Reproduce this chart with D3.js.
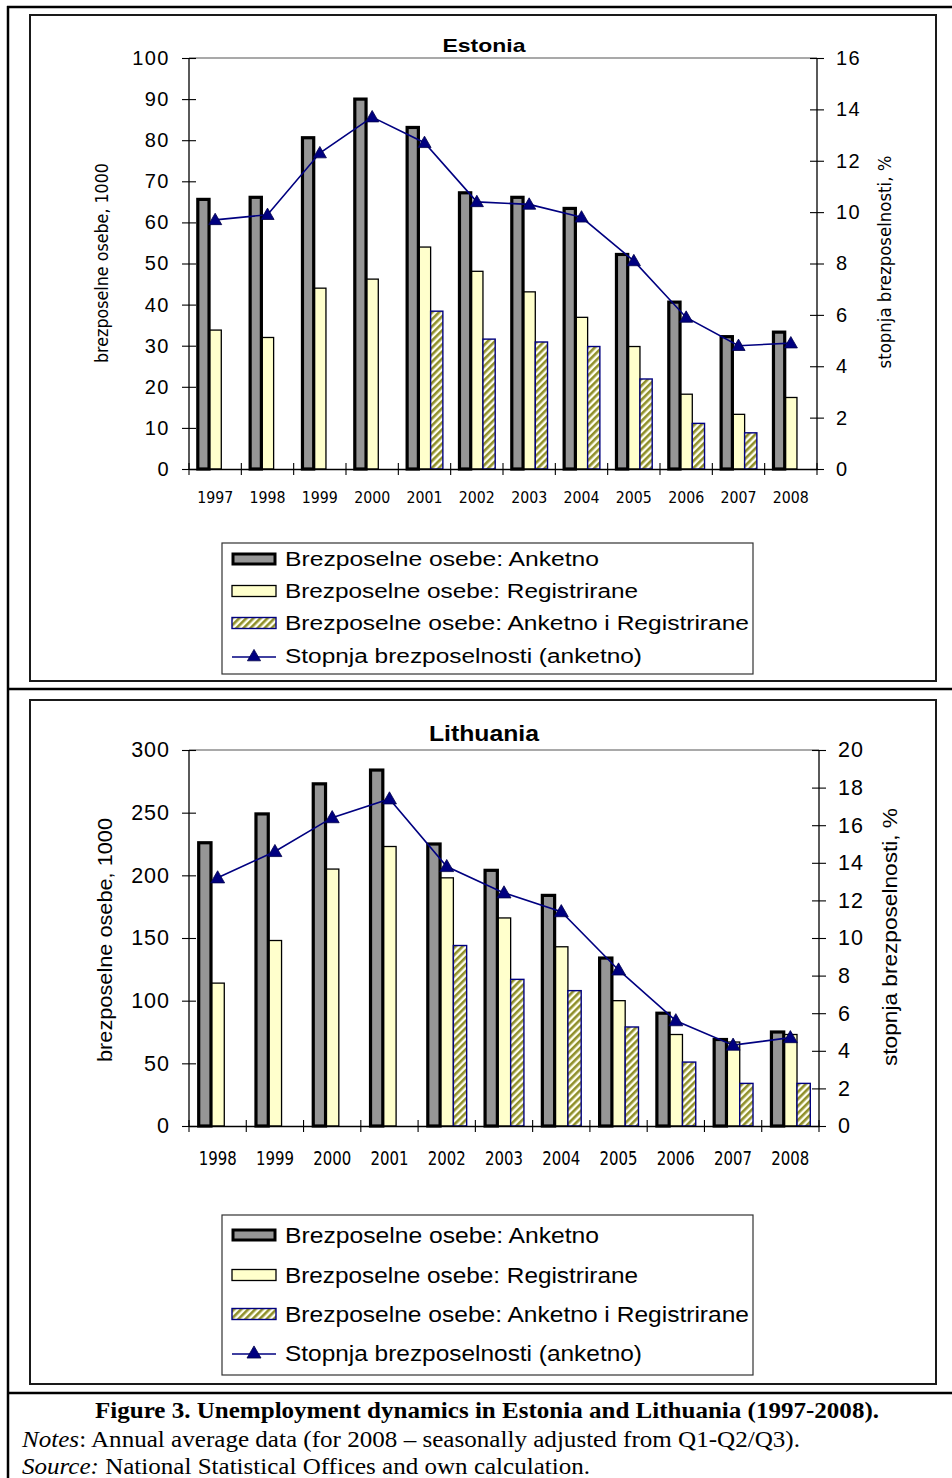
<!DOCTYPE html>
<html><head><meta charset="utf-8">
<script src="https://cdn.jsdelivr.net/npm/d3@7/dist/d3.min.js"></script>
<style>
html,body{margin:0;padding:0;background:#fff;}
svg{display:block;}
</style></head>
<body>
<svg id="c" width="952" height="1478"></svg>
<script>
// ---------- DATA ----------
const estYears = ["1997","1998","1999","2000","2001","2002","2003","2004","2005","2006","2007","2008"];
const estAnketno = [65.6, 66.1, 80.6, 90.0, 83.1, 67.2, 66.1, 63.4, 52.2, 40.6, 32.2, 33.3];
const estRegistrirane = [33.8, 32.0, 44.0, 46.2, 54.0, 48.1, 43.1, 36.9, 29.8, 18.2, 13.3, 17.4];
const estBoth = [null, null, null, null, 38.4, 31.6, 30.9, 29.8, 21.9, 11.1, 8.8, null];
const estRate = [9.7, 9.9, 12.3, 13.7, 12.7, 10.4, 10.3, 9.8, 8.1, 5.9, 4.8, 4.9];
const estLeftTicks = [0,10,20,30,40,50,60,70,80,90,100];
const estRightTicks = [0,2,4,6,8,10,12,14,16];

const litYears = ["1998","1999","2000","2001","2002","2003","2004","2005","2006","2007","2008"];
const litAnketno = [226, 249, 273, 284, 225, 204, 184, 134, 90, 69, 75];
const litRegistrirane = [114, 148, 205, 223, 198, 166, 143, 100, 73, 67, 73];
const litBoth = [null, null, null, null, 144, 117, 108, 79, 51, 34, 34];
const litRate = [13.2, 14.6, 16.4, 17.4, 13.8, 12.4, 11.4, 8.3, 5.6, 4.3, 4.7];
const litLeftTicks = [0,50,100,150,200,250,300];
const litRightTicks = [0,2,4,6,8,10,12,14,16,18,20];

const legendLabels = ["Brezposelne osebe: Anketno","Brezposelne osebe: Registrirane","Brezposelne osebe: Anketno i Registrirane","Stopnja brezposelnosti (anketno)"];
const leftTitle = "brezposelne osebe, 1000";
const rightTitle = "stopnja brezposelnosti, %";

// ---------- STYLE ----------
const SANS = "'Liberation Sans', Arial, sans-serif";
const NARROW = "'Liberation Sans Narrow', 'DejaVu Sans Condensed', 'Liberation Sans', sans-serif";
const SERIF = "'Liberation Serif', 'Times New Roman', serif";
const C_ANK = "#969696", C_REG = "#FFFFCC", C_LINE = "#000080", C_HATCH = "#8f8f2a";
const legendWidths = [314, 353, 464, 357];

const svg = d3.select("#c");
const defs = svg.append("defs");
const pat = defs.append("pattern").attr("id","hatch").attr("patternUnits","userSpaceOnUse")
  .attr("width",5).attr("height",5).attr("patternTransform","rotate(45)");
pat.append("rect").attr("width",5).attr("height",5).attr("fill","#fffff0");
pat.append("rect").attr("width",2.6).attr("height",5).attr("fill",C_HATCH);

// outer figure lines
const g0 = svg.append("g").attr("stroke","#000").attr("stroke-width",2.5);
g0.append("line").attr("x1",8).attr("x2",8).attr("y1",6).attr("y2",1478);
g0.append("line").attr("x1",7).attr("x2",952).attr("y1",7).attr("y2",7);
g0.append("line").attr("x1",7).attr("x2",952).attr("y1",689).attr("y2",689);
g0.append("line").attr("x1",7).attr("x2",952).attr("y1",1393).attr("y2",1393);

function chart(cfg){
  const g = svg.append("g");
  g.append("rect").attr("x",cfg.frame[0]).attr("y",cfg.frame[1]).attr("width",cfg.frame[2]).attr("height",cfg.frame[3])
    .attr("fill","none").attr("stroke","#1a1a1a").attr("stroke-width",2);
  const x = d3.scaleBand().domain(cfg.years).range([cfg.left,cfg.right]).paddingInner(0).paddingOuter(0);
  const yL = d3.scaleLinear().domain([0,cfg.leftMax]).range([cfg.bottom,cfg.top]);
  const yR = d3.scaleLinear().domain([0,cfg.rightMax]).range([cfg.bottom,cfg.top]);
  const cw = x.bandwidth();
  const bw = cw*cfg.barFrac;
  const off = (cw-3*bw)/2;

  g.append("line").attr("x1",cfg.left).attr("x2",cfg.right).attr("y1",cfg.top).attr("y2",cfg.top)
    .attr("stroke","#8c8c8c").attr("stroke-width",1.5);

  const idx = d3.range(cfg.years.length);
  g.append("g").selectAll("rect").data(idx.filter(i=>cfg.reg[i]!=null)).join("rect")
    .attr("x",i=>x(cfg.years[i])+off+bw).attr("width",bw)
    .attr("y",i=>yL(cfg.reg[i])).attr("height",i=>yL(0)-yL(cfg.reg[i]))
    .attr("fill",C_REG).attr("stroke","#000").attr("stroke-width",1.3);
  g.append("g").selectAll("rect").data(idx.filter(i=>cfg.both[i]!=null)).join("rect")
    .attr("x",i=>x(cfg.years[i])+off+2*bw).attr("width",bw)
    .attr("y",i=>yL(cfg.both[i])).attr("height",i=>yL(0)-yL(cfg.both[i]))
    .attr("fill","url(#hatch)").attr("stroke",C_LINE).attr("stroke-width",1.4);
  g.append("g").selectAll("rect").data(idx.filter(i=>cfg.ank[i]!=null)).join("rect")
    .attr("x",i=>x(cfg.years[i])+off+1).attr("width",bw-1)
    .attr("y",i=>yL(cfg.ank[i])).attr("height",i=>yL(0)-yL(cfg.ank[i]))
    .attr("fill",C_ANK).attr("stroke","#000").attr("stroke-width",3.2);

  const axL = g.append("g").attr("transform",`translate(${cfg.left},0)`)
    .call(d3.axisLeft(yL).tickValues(cfg.leftTicks).tickSize(7).tickPadding(12).tickFormat(d3.format("d")));
  axL.select(".domain").attr("stroke","#000").attr("stroke-width",1.3).attr("d",`M0,${cfg.bottom}V${cfg.top}`);
  axL.selectAll(".tick line").attr("x1",7).attr("x2",-7).attr("stroke","#000").attr("stroke-width",1.1);
  axL.selectAll(".tick text").attr("font-family",SANS).attr("font-size",cfg.tickFont).attr("letter-spacing",cfg.tickLS).attr("fill","#000");

  const axR = g.append("g").attr("transform",`translate(${cfg.right},0)`)
    .call(d3.axisRight(yR).tickValues(cfg.rightTicks).tickSize(7).tickPadding(12).tickFormat(d3.format("d")));
  axR.select(".domain").attr("stroke","#000").attr("stroke-width",1.3).attr("d",`M0,${cfg.bottom}V${cfg.top}`);
  axR.selectAll(".tick line").attr("x1",-7).attr("x2",7).attr("stroke","#000").attr("stroke-width",1.1);
  axR.selectAll(".tick text").attr("font-family",SANS).attr("font-size",cfg.tickFont).attr("letter-spacing",cfg.tickLS).attr("fill","#000");

  const axB = g.append("g").attr("transform",`translate(0,${cfg.bottom})`)
    .call(d3.axisBottom(x).tickSize(0).tickPadding(cfg.yearPad));
  axB.select(".domain").attr("stroke","#000").attr("stroke-width",1.3);
  axB.selectAll(".tick text").attr("font-family",cfg.yearFamily).attr("font-size",cfg.yearFont).attr("fill","#000")
    .attr("textLength",cfg.yearLen).attr("lengthAdjust","spacingAndGlyphs");
  const bounds = cfg.years.map(d=>x(d)).concat([cfg.right]);
  axB.append("g").selectAll("line").data(bounds).join("line")
    .attr("x1",d=>d).attr("x2",d=>d).attr("y1",-6).attr("y2",6).attr("stroke","#000").attr("stroke-width",1.1);

  const line = d3.line().x((d,i)=>x(cfg.years[i])+cw/2).y(d=>yR(d));
  g.append("path").datum(cfg.rate).attr("d",line).attr("fill","none").attr("stroke",C_LINE).attr("stroke-width",1.6);
  const tri = d3.symbol().type(d3.symbolTriangle).size(cfg.markSize);
  g.append("g").selectAll("path").data(cfg.rate).join("path")
    .attr("transform",(d,i)=>`translate(${x(cfg.years[i])+cw/2},${yR(d)+1})`)
    .attr("d",tri).attr("fill",C_LINE).attr("stroke","#00004a").attr("stroke-width",0.8);

  g.append("text").attr("x",cfg.titleX).attr("y",cfg.titleY).attr("text-anchor","middle")
    .attr("font-family",SANS).attr("font-weight","bold").attr("font-size",cfg.titleFont)
    .attr("textLength",cfg.titleLen).attr("lengthAdjust","spacingAndGlyphs").text(cfg.title);
  g.append("text").attr("transform",`translate(${cfg.lTitle[0]},${cfg.lTitle[1]}) rotate(-90)`)
    .attr("text-anchor","middle").attr("font-family",cfg.axTitleFamily).attr("font-size",cfg.axTitleFont)
    .attr("textLength",cfg.lTitle[2]).attr("lengthAdjust","spacingAndGlyphs").text(leftTitle);
  g.append("text").attr("transform",`translate(${cfg.rTitle[0]},${cfg.rTitle[1]}) rotate(-90)`)
    .attr("text-anchor","middle").attr("font-family",cfg.axTitleFamily).attr("font-size",cfg.axTitleFont)
    .attr("textLength",cfg.rTitle[2]).attr("lengthAdjust","spacingAndGlyphs").text(rightTitle);

  const L = cfg.legend;
  const lg = g.append("g");
  lg.append("rect").attr("x",L.x).attr("y",L.y).attr("width",L.w).attr("height",L.h)
    .attr("fill","#fff").attr("stroke","#333").attr("stroke-width",1.2);
  L.rows.forEach((cy,k)=>{
    const sx = L.x+10, sw = 44;
    if(k===0) lg.append("rect").attr("x",sx+1).attr("y",cy-5).attr("width",sw-2).attr("height",10).attr("fill",C_ANK).attr("stroke","#000").attr("stroke-width",3);
    if(k===1) lg.append("rect").attr("x",sx).attr("y",cy-5.5).attr("width",sw).attr("height",11).attr("fill",C_REG).attr("stroke","#000").attr("stroke-width",1.3);
    if(k===2) lg.append("rect").attr("x",sx).attr("y",cy-5.5).attr("width",sw).attr("height",11).attr("fill","url(#hatch)").attr("stroke",C_LINE).attr("stroke-width",1.4);
    if(k===3){
      lg.append("line").attr("x1",sx).attr("x2",sx+sw).attr("y1",cy+1).attr("y2",cy+1).attr("stroke",C_LINE).attr("stroke-width",1.6);
      lg.append("path").attr("transform",`translate(${sx+sw/2},${cy+1})`).attr("d",tri).attr("fill",C_LINE).attr("stroke","#00004a").attr("stroke-width",0.8);
    }
    lg.append("text").attr("x",L.x+63).attr("y",cy).attr("dy","0.35em").attr("font-family",SANS)
      .attr("font-size",L.font).attr("textLength",legendWidths[k]).attr("lengthAdjust","spacingAndGlyphs").text(legendLabels[k]);
  });
}

chart({
  years:estYears, ank:estAnketno, reg:estRegistrirane, both:estBoth, rate:estRate,
  leftMax:100, rightMax:16, leftTicks:estLeftTicks, rightTicks:estRightTicks,
  left:189, right:817, top:58, bottom:469, frame:[30,15,906,666],
  barFrac:0.234, tickFont:20, tickLS:1.5, yearFont:16.5, yearLen:36, yearPad:22, yearFamily:NARROW, markSize:75,
  title:"Estonia", titleX:484, titleY:52, titleFont:19, titleLen:83,
  axTitleFamily:NARROW, axTitleFont:18, lTitle:[108,263,200], rTitle:[891,262,213],
  legend:{x:222,y:543,w:531,h:131,rows:[559,591,623,656],font:19.5}
});
chart({
  years:litYears, ank:litAnketno, reg:litRegistrirane, both:litBoth, rate:litRate,
  leftMax:300, rightMax:20, leftTicks:litLeftTicks, rightTicks:litRightTicks,
  left:189, right:819, top:750, bottom:1126, frame:[30,700,906,684],
  barFrac:0.232, tickFont:21.5, tickLS:1, yearFont:20, yearLen:38, yearPad:25, yearFamily:NARROW, markSize:85,
  title:"Lithuania", titleX:484, titleY:741, titleFont:22, titleLen:110,
  axTitleFamily:SANS, axTitleFont:20.5, lTitle:[112,940,244], rTitle:[897,937,258],
  legend:{x:222,y:1215,w:531,h:160,rows:[1235,1275,1314,1353],font:21.5}
});

// caption
const cap = svg.append("g").attr("font-family",SERIF).attr("font-size",22.5);
cap.append("text").attr("x",487).attr("y",1418).attr("text-anchor","middle").attr("font-weight","bold")
  .attr("textLength",784).attr("lengthAdjust","spacingAndGlyphs")
  .text("Figure 3. Unemployment dynamics in Estonia and Lithuania (1997-2008).");
const n = cap.append("text").attr("x",22).attr("y",1447).attr("textLength",778).attr("lengthAdjust","spacingAndGlyphs");
n.append("tspan").attr("font-style","italic").text("Notes");
n.append("tspan").text(": Annual average data (for 2008 \u2013 seasonally adjusted from Q1-Q2/Q3).");
const s = cap.append("text").attr("x",22).attr("y",1474).attr("textLength",568).attr("lengthAdjust","spacingAndGlyphs");
s.append("tspan").attr("font-style","italic").text("Source:");
s.append("tspan").text(" National Statistical Offices and own calculation.");
</script>
</body></html>
